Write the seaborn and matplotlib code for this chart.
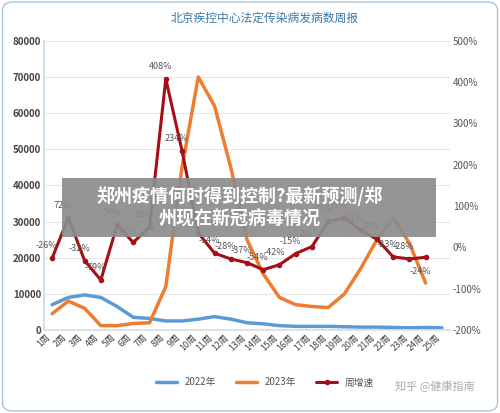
import numpy as np
import pandas as pd
import matplotlib
matplotlib.use("Agg")
import matplotlib.pyplot as plt
import seaborn as sns

weeks = [f"{i}周" for i in range(1, 26)]
y2022 = [7000, 9000, 9700, 9000, 6500, 3500, 3200, 2500, 2500, 3000, 3700, 3000, 2000,
         1700, 1200, 1000, 1000, 1000, 900, 800, 800, 700, 600, 700, 600]
y2023 = [4500, 8000, 6000, 1200, 1200, 1800, 2000, 12000, 45000, 70000, 62000, 45000,
         25000, 15500, 9000, 7000, 6500, 6200, 10000, 17000, 25000, 31000, 24000, 13000]
growth = [-26, 72, -32, -79, 54, 12, 50, 408, 234, 35, -14, -28, -37, -54, -42, -15, 2,
          63, 72, 41, 20, -23, -28, -24]
growth_labels = ["-26%", "72%", "-32%", "-79%", "54%", "12%", "50%", "408%", "234%", "35%",
                 "-14%", "-28%", "-37%", "-54%", "-42%", "-15%", "2%", "63%", "72%", "41%",
                 "20%", "-23%", "-28%", "-24%"]

sns.set_theme(style="white")
plt.rcParams["font.family"] = ["Noto Sans CJK SC", "DejaVu Sans"]

fig = plt.figure(figsize=(5, 4.13), dpi=100)
ax = fig.add_axes([0.088, 0.201, 0.812, 0.70])
ax2 = ax.twinx()

x = np.arange(len(weeks))
sns.lineplot(x=x, y=y2022, ax=ax, color="#5b9bd5", lw=2.5, label="2022年", legend=False)
sns.lineplot(x=x[:len(y2023)], y=y2023, ax=ax, color="#ed7d31", lw=2.5, label="2023年", legend=False)
sns.lineplot(x=x[:len(growth)], y=growth, ax=ax2, color="#a50f15", lw=2.2, marker="o",
             markersize=4, markeredgewidth=0, label="周增速", legend=False)
for i, (xi, g, lab) in enumerate(zip(x, growth, growth_labels)):
    dy = -12 if i == len(growth) - 1 else 7
    ax2.annotate(lab, (xi, g), xytext=(-4, dy), textcoords="offset points",
                 fontsize=6.5, color="#555555", ha="center")

ax.set_ylim(0, 80000)
ax.set_yticks(range(0, 80001, 10000))
ax2.set_ylim(-200, 500)
ax2.set_yticks(range(-200, 501, 100))
ax2.set_yticklabels([f"{v}%" for v in range(-200, 501, 100)], fontsize=7, color="#555555")
ax.set_yticklabels([str(v) for v in range(0, 80001, 10000)], fontsize=7, fontweight="bold", color="#444444")
ax.set_xlim(-0.5, len(weeks) - 0.5)
ax.set_xticks(x)
ax.set_xticklabels(weeks, rotation=45, ha="right", fontsize=6.5, color="#444444")
ax.grid(axis="y", color="#e6e6e6", lw=0.8)
for a in (ax, ax2):
    for s in a.spines.values():
        s.set_visible(False)
    a.tick_params(length=0, pad=2)
ax.spines["left"].set_visible(True)
ax.spines["left"].set_color("#c8dbe8")
ax.spines["bottom"].set_visible(True)
ax.spines["bottom"].set_color("#dddddd")

fig.text(0.53, 0.955, "北京疾控中心法定传染病发病数周报", ha="center", va="center",
         fontsize=8.5, color="#3a78a8")

h1, l1 = ax.get_legend_handles_labels()
h2, l2 = ax2.get_legend_handles_labels()
fig.legend(h1 + h2, l1 + l2, loc="center", bbox_to_anchor=(0.53, 0.074), ncol=3,
           frameon=False, fontsize=7, handlelength=2.2, labelcolor="#555555")

fig.patches.append(matplotlib.patches.Rectangle(
    (0.124, 0.426), 0.748, 0.143, transform=fig.transFigure, fc="#8c8c8c", ec="none",
    alpha=0.92, zorder=10))
fig.text(0.48, 0.4975, "郑州疫情何时得到控制?最新预测/郑\n州现在新冠病毒情况", ha="center",
         va="center", fontsize=13, fontweight="bold", color="white", linespacing=1.25, zorder=11)
fig.text(0.87, 0.065, "知乎 @健康指南", ha="center", va="center", fontsize=8, color="#aaaaaa")

fig.patches.append(matplotlib.patches.FancyBboxPatch(
    (0.005, 0.005), 0.99, 0.99, boxstyle="round,pad=0,rounding_size=0.02",
    transform=fig.transFigure, fc="none", ec="#a9c4d4", lw=1))

fig.savefig("out.png", dpi=100)
